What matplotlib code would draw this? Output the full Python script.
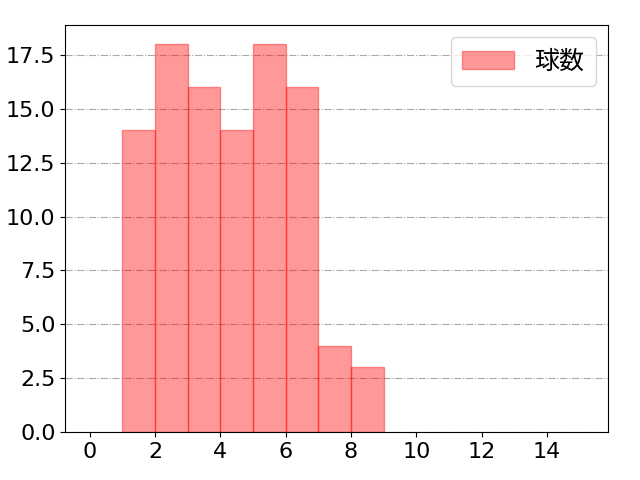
import matplotlib
matplotlib.use('Agg')
import matplotlib.pyplot as plt

plt.rcParams['font.family'] = ['DejaVu Sans', 'Noto Sans CJK JP']
plt.rcParams['font.size'] = 16

# bin edges and pitch counts
bin_edges = [1, 2, 3, 4, 5, 6, 7, 8, 9]
counts = [14, 18, 16, 14, 18, 16, 4, 3]
label = '球数'
xticks = [0, 2, 4, 6, 8, 10, 12, 14]

fig = plt.figure(figsize=(6.4, 4.8), dpi=100)
ax = fig.add_axes([0.102, 0.1, 0.848, 0.848])

ax.hist(bin_edges[:-1], bins=bin_edges, weights=counts,
        color='red', alpha=0.4, ec='red', label=label)
ax.grid(axis='y', linestyle='-.', color='darkgray', linewidth=0.8)
ax.set_axisbelow(True)

ax.set_xlim(-0.75, 15.87)
ax.set_ylim(0, max(counts) * 1.05)
ax.set_xticks(xticks)
ax.legend(loc='upper right', handlelength=2.1, borderpad=0.45,
          prop={'family': ['Noto Sans CJK JP'], 'size': 18})

fig.savefig('out.png')
